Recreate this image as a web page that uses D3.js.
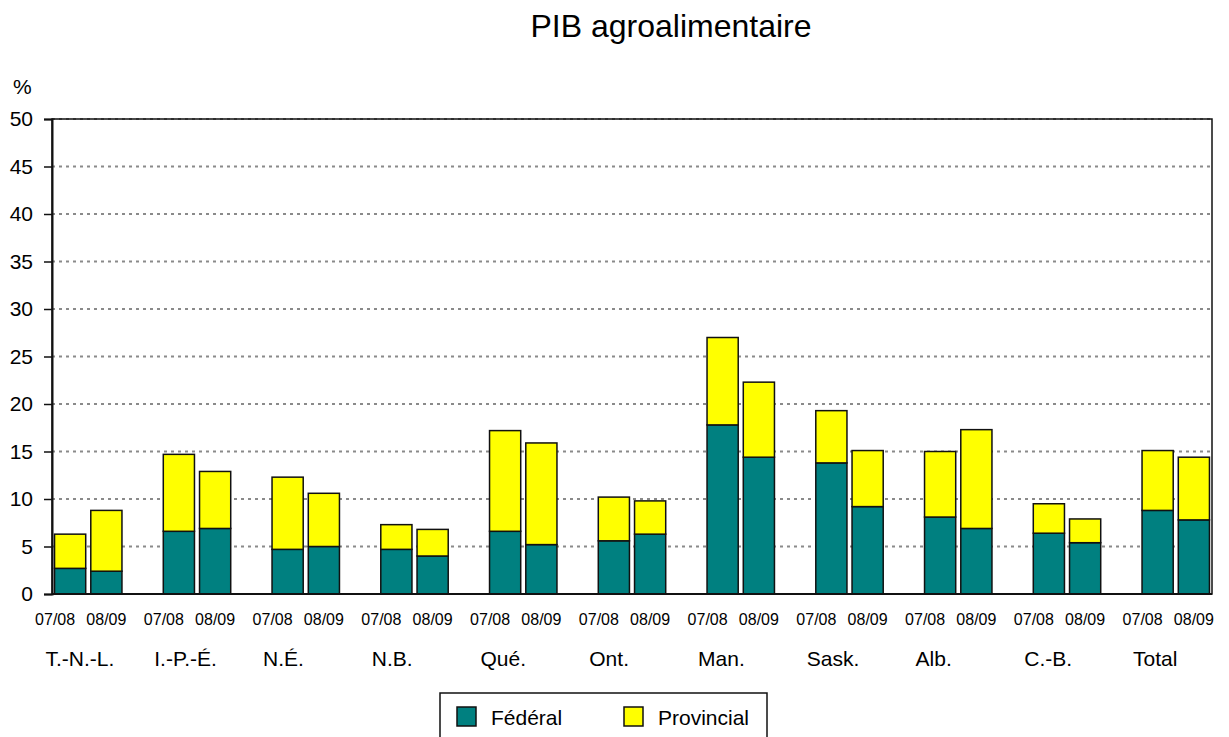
<!DOCTYPE html>
<html>
<head>
<meta charset="utf-8">
<script src="https://cdn.jsdelivr.net/npm/d3@7"></script>
<style>
  body { margin: 0; background: #fff; }
  svg { display: block; font-family: "Liberation Sans", Arial, sans-serif; }
</style>
</head>
<body>
<script>
// données
const provinces = ["T.-N.-L.", "I.-P.-É.", "N.É.", "N.B.", "Qué.", "Ont.", "Man.", "Sask.", "Alb.", "C.-B.", "Total"];
const periodes = ["07/08", "08/09"];
const federal07 = [2.7, 6.6, 4.7, 4.7, 6.6, 5.6, 17.8, 13.8, 8.1, 6.4, 8.8];
const provincial07 = [3.6, 8.1, 7.6, 2.6, 10.6, 4.6, 9.2, 5.5, 6.9, 3.1, 6.3];
const federal08 = [2.4, 6.9, 5.0, 4.0, 5.2, 6.3, 14.4, 9.2, 6.9, 5.4, 7.8];
const provincial08 = [6.4, 6.0, 5.6, 2.8, 10.7, 3.5, 7.9, 5.9, 10.4, 2.5, 6.6];
const yTicks = [0, 5, 10, 15, 20, 25, 30, 35, 40, 45, 50];
const series = ["Fédéral", "Provincial"];
const couleurs = ["#008080", "#ffff00"];

const WIDTH = 1229, HEIGHT = 737;
const m = { left: 52, right: 1212, top: 119, bottom: 594 };

const svg = d3.select("body").append("svg").attr("width", WIDTH).attr("height", HEIGHT);

// slots : 2 barres + 1 vide par province
let slots = [];
provinces.forEach((p, i) => {
  periodes.forEach(per => slots.push(p + "|" + per));
  if (i < provinces.length - 1) slots.push(p + "|vide");
});

const x = d3.scaleBand().domain(slots).range([m.left, m.right]).paddingInner(0.14).paddingOuter(0.07);
const y = d3.scaleLinear().domain([0, 50]).range([m.bottom, m.top]);

// lignes de grille
svg.append("g").selectAll("line")
  .data(yTicks.filter(d => d > 0))
  .enter().append("line")
  .attr("x1", m.left).attr("x2", m.right)
  .attr("y1", d => y(d)).attr("y2", d => y(d))
  .attr("stroke", "#8a8a8a").attr("stroke-width", 2).attr("stroke-dasharray", "3,4");

// tableau des barres
let tab = [];
provinces.forEach((p, i) => {
  tab.push({ key: p + "|07/08", per: 0, fed: federal07[i], prov: provincial07[i] });
  tab.push({ key: p + "|08/09", per: 1, fed: federal08[i], prov: provincial08[i] });
});

const bars = svg.append("g");
bars.selectAll(".fed").data(tab).enter().append("rect")
  .attr("x", d => x(d.key)).attr("width", x.bandwidth())
  .attr("y", d => y(d.fed)).attr("height", d => y(0) - y(d.fed))
  .attr("fill", couleurs[0]).attr("stroke", "#111").attr("stroke-width", 1.5);
bars.selectAll(".prov").data(tab).enter().append("rect")
  .attr("x", d => x(d.key)).attr("width", x.bandwidth())
  .attr("y", d => y(d.fed + d.prov)).attr("height", d => y(d.fed) - y(d.fed + d.prov))
  .attr("fill", couleurs[1]).attr("stroke", "#111").attr("stroke-width", 1.5);

// cadre
svg.append("rect")
  .attr("x", m.left).attr("y", m.top)
  .attr("width", m.right - m.left).attr("height", m.bottom - m.top)
  .attr("fill", "none").attr("stroke", "#111").attr("stroke-width", 1.5);

// axe y
const yAxis = svg.append("g").attr("transform", "translate(" + m.left + ",0)")
  .call(d3.axisLeft(y).tickValues(yTicks).tickSize(8).tickPadding(11));
yAxis.select(".domain").attr("stroke", "#111").attr("stroke-width", 2);
yAxis.selectAll(".tick line").attr("stroke", "#111").attr("stroke-width", 1.5);
yAxis.selectAll("text").attr("font-size", 21).attr("fill", "#000")
  .attr("font-family", "Liberation Sans, Arial, sans-serif");

svg.append("line").attr("x1", m.left).attr("x2", m.right)
  .attr("y1", y(0)).attr("y2", y(0)).attr("stroke", "#111").attr("stroke-width", 2);

svg.append("text").attr("x", 13).attr("y", 94).attr("font-size", 21).text("%");

// étiquettes des périodes (07/08 décalé vers la gauche comme dans l'original)
svg.append("g").selectAll("text").data(tab).enter().append("text")
  .attr("x", d => x(d.key) + x.bandwidth() / 2 - (d.per === 0 ? 15 : 0))
  .attr("y", 625)
  .attr("text-anchor", "middle").attr("font-size", 16)
  .text(d => d.key.split("|")[1]);

// étiquettes des provinces
svg.append("g").selectAll("text").data(provinces).enter().append("text")
  .attr("x", d => x(d + "|07/08") - 9)
  .attr("y", 666)
  .attr("font-size", 21)
  .text(d => d);

// titre
svg.append("text").attr("x", 671).attr("y", 37).attr("text-anchor", "middle")
  .attr("font-size", 32).text("PIB agroalimentaire");

// légende
const leg = svg.append("g");
leg.append("rect").attr("x", 440).attr("y", 693).attr("width", 327).attr("height", 60)
  .attr("fill", "#fff").attr("stroke", "#111").attr("stroke-width", 1.5);
const legX = [457, 624];
series.forEach((s, i) => {
  leg.append("rect").attr("x", legX[i]).attr("y", 707).attr("width", 19).attr("height", 19)
    .attr("fill", couleurs[i]).attr("stroke", "#111").attr("stroke-width", 1.5);
  leg.append("text").attr("x", legX[i] + 34).attr("y", 725).attr("font-size", 21).text(s);
});
</script>
</body>
</html>
